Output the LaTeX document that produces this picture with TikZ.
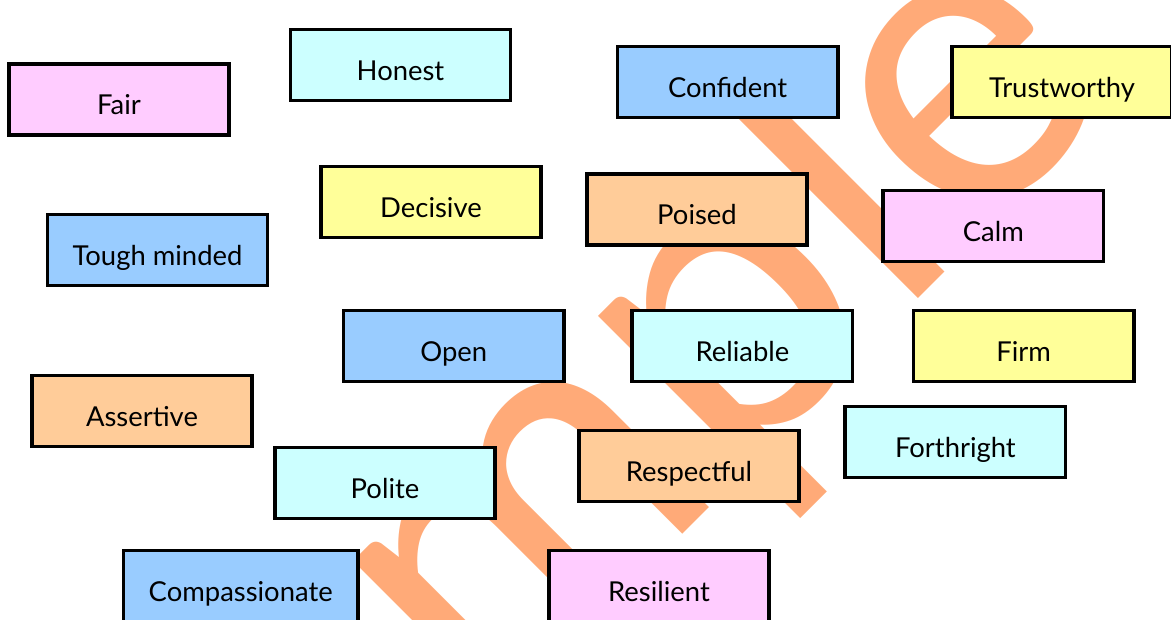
\documentclass[tikz,border=0pt]{standalone}
\usepackage{fontspec}
\setmainfont{Lato}
\usepackage{tikz}
\usetikzlibrary{positioning}
\usepackage{xcolor}

\definecolor{wpink}{RGB}{255,204,255}
\definecolor{wcyan}{RGB}{204,255,255}
\definecolor{wblue}{RGB}{153,204,255}
\definecolor{wyellow}{RGB}{255,255,153}
\definecolor{worange}{RGB}{255,204,153}
\definecolor{mark}{RGB}{255,170,120}

\begin{document}
\begin{tikzpicture}[x=0.025cm, y=-0.025cm,
        word/.style={draw, line width=2.5pt, rectangle, minimum width=5.51cm, minimum height=1.785cm,
            text height=0.85cm, text depth=0.1cm, font=\fontsize{19.5pt}{23pt}\selectfont},
        stamp/.style={text=mark, font=\fontsize{300pt}{305pt}\selectfont, rotate=45, inner sep=0pt}
    ]

        % Page frame
        \useasboundingbox (0,0) rectangle (1171,619);
        \clip (0,0) rectangle (1171,619);

        % Watermark behind the boxes
        \node[stamp, anchor=base east] (stampmark) at (1124,93) {Sample};

        % First rows
        \node[word, fill=wpink] (fair) at (119,99.5) {Fair};
        \node[word, fill=wcyan] (honest) at (400.5,65) {Honest};
        \node[word, fill=wblue] (confident) at (727.6,82) {Confident};
        \node[word, fill=wyellow] (trustworthy) at (1062,82) {Trustworthy};
        \node[word, fill=wyellow] (decisive) at (431,202) {Decisive};
        \node[word, fill=worange] (poised) at (697,209.5) {Poised};
        \node[word, fill=wpink] (calm) at (993.4,226) {Calm};
        \node[word, fill=wblue] (tough) at (157.5,250) {Tough minded};

        % Middle rows
        \node[word, fill=wblue] (open) at (453.7,346) {Open};
        \node[word, fill=wcyan] (reliable) at (742.4,346) {Reliable};
        \node[word, fill=wyellow] (firm) at (1023.7,346) {Firm};
        \node[word, fill=worange] (assertive) at (142,411) {Assertive};
        \node[word, fill=wcyan] (forthright) at (955.4,442) {Forthright};
        \node[word, fill=worange] (respectful) at (689,466) {Respectful};
        \node[word, fill=wcyan] (polite) at (385,483) {Polite};

        % Bottom row
        \node[word, fill=wblue, minimum width=5.86cm] (compassionate) at (240.7,586) {Compassionate};
        \node[word, fill=wpink] (resilient) at (659,586) {Resilient};

    \end{tikzpicture}
\end{document}
